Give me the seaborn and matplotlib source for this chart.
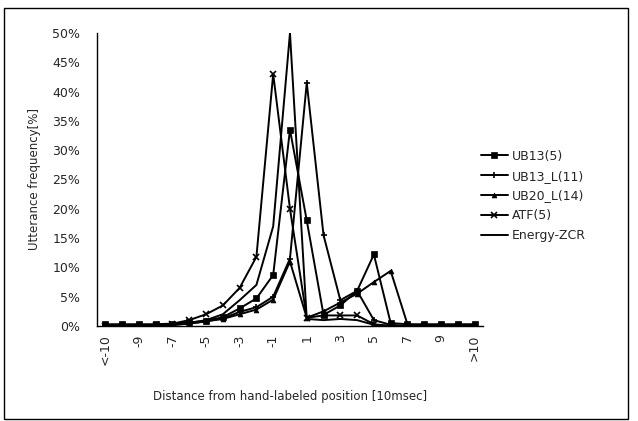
import numpy as np
import pandas as pd
import matplotlib
matplotlib.use("Agg")
import matplotlib.pyplot as plt
import seaborn as sns
from matplotlib.patches import Rectangle

categories = ["<-10"] + [str(v) for v in range(-10, 11)] + [">10"]

ub13_5 = [0.3, 0.3, 0.3, 0.3, 0.4, 0.6, 0.9, 1.5, 3.0, 4.7, 8.7, 33.5, 18.0, 1.9, 3.5, 6.0, 12.2, 0.5, 0.3, 0.3, 0.3, 0.3, 0.3]
ub13_l11 = [0.0, 0.0, 0.0, 0.0, 0.2, 0.4, 0.8, 1.3, 2.4, 3.2, 5.0, 11.5, 41.5, 15.5, 4.4, 6.0, 1.0, 0.2, 0.0, 0.0, 0.0, 0.0, 0.0]
ub20_l14 = [0.0, 0.0, 0.0, 0.0, 0.2, 0.4, 0.8, 1.2, 2.0, 2.8, 4.5, 11.0, 1.4, 2.5, 4.0, 5.5, 7.5, 9.4, 0.3, 0.0, 0.0, 0.0, 0.0]
atf_5 = [0.0, 0.0, 0.0, 0.2, 0.4, 1.0, 2.0, 3.5, 6.5, 11.8, 43.0, 20.0, 1.4, 1.8, 1.8, 1.8, 0.3, 0.0, 0.0, 0.0, 0.0, 0.0, 0.0]
energy_zcr = [0.0, 0.0, 0.0, 0.0, 0.2, 0.5, 1.0, 2.0, 4.4, 7.0, 17.0, 50.0, 1.2, 1.0, 1.2, 1.0, 0.2, 0.0, 0.0, 0.0, 0.0, 0.0, 0.0]

series_names = ["UB13(5)", "UB13_L(11)", "UB20_L(14)", "ATF(5)", "Energy-ZCR"]
series_values = [ub13_5, ub13_l11, ub20_l14, atf_5, energy_zcr]
y_ticks = [0, 5, 10, 15, 20, 25, 30, 35, 40, 45, 50]

sns.set_style("white")
plt.rcParams['font.family'] = ['DejaVu Sans']

fig = plt.figure(figsize=(6.38, 4.21), dpi=100)
ax = fig.add_axes([0.152, 0.2257, 0.605, 0.696])

styles = {
    "UB13(5)": dict(marker="s", markersize=5, markeredgewidth=0.5),
    "UB13_L(11)": dict(marker="+", markersize=5, markeredgewidth=1.2),
    "UB20_L(14)": dict(marker="^", markersize=3.5, markeredgewidth=0.5),
    "ATF(5)": dict(marker="x", markersize=4, markeredgewidth=1.2),
    "Energy-ZCR": dict(marker=None),
}

pos = np.arange(len(categories))
for name, vals in zip(series_names, series_values):
    df = pd.DataFrame({"pos": pos, "val": vals})
    sns.lineplot(data=df, x="pos", y="val", ax=ax, color="black", linewidth=1.4,
                 label=name, markerfacecolor="black", markeredgecolor="black",
                 **styles[name])

ax.set_xlim(-0.5, len(categories) - 0.5)
ax.set_ylim(0, 50)
ax.set_yticks(y_ticks)
ax.set_yticklabels([f"{v}%" for v in y_ticks], fontsize=9)
ax.set_xticks(pos[::2])
ax.set_xticklabels(categories[::2], rotation=90, fontsize=9)
ax.set_xticks(np.arange(-0.5, len(categories), 1), minor=True)
ax.tick_params(axis="x", which="major", length=0, pad=6)
ax.tick_params(axis="x", which="minor", direction="in", length=3, width=0.8, color="black")
ax.tick_params(axis="y", which="major", direction="out", length=3, width=0.8, color="black", pad=9)

for s in ["top", "right"]:
    ax.spines[s].set_visible(False)
for s in ["left", "bottom"]:
    ax.spines[s].set_color("black")
    ax.spines[s].set_linewidth(1.0)

ax.set_xlabel("Distance from hand-labeled position [10msec]", fontsize=8.5, labelpad=18)
ax.set_ylabel("Utterance frequency[%]", fontsize=8.5, labelpad=8)

leg = ax.legend(loc="upper left", bbox_to_anchor=(0.965, 0.64), frameon=False,
                fontsize=9, handlelength=2.2, handletextpad=0.3, labelspacing=0.55)

fig.patches.append(Rectangle((0.006, 0.005), 0.978, 0.975, transform=fig.transFigure,
                             fill=False, edgecolor="black", linewidth=1.0))

fig.savefig("out.png", dpi=100, facecolor="white")
